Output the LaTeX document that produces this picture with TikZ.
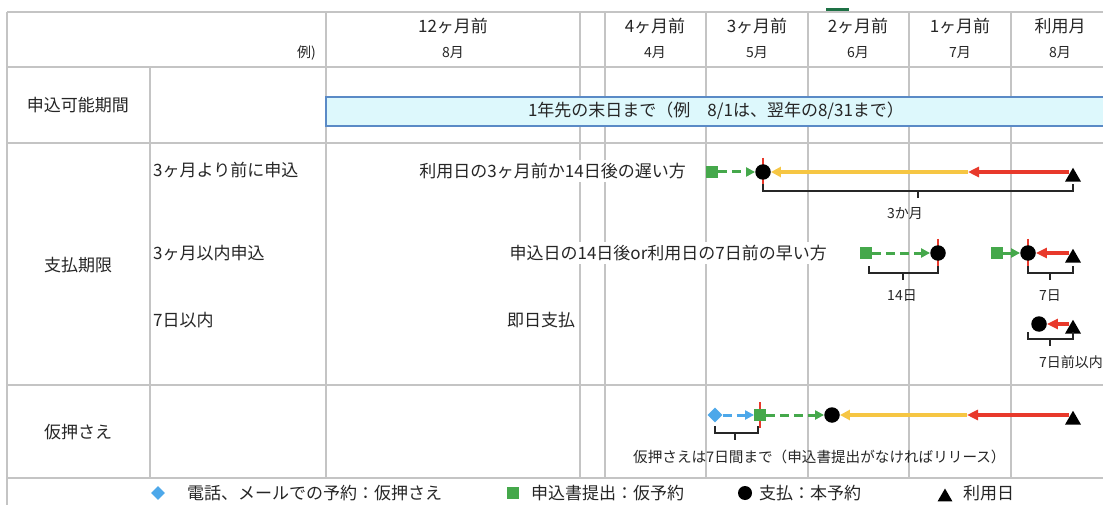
\documentclass[tikz,border=0pt]{standalone}
\usepackage{fontspec}
\setmainfont{Noto Sans CJK JP}
\usetikzlibrary{shapes.geometric,arrows.meta,calc}
\definecolor{gridc}{HTML}{C4C4C4}
\definecolor{barfill}{HTML}{DDF8FC}
\definecolor{barline}{HTML}{5A8AC6}
\definecolor{mgreen}{HTML}{45A84B}
\definecolor{mred}{HTML}{E8392B}
\definecolor{myellow}{HTML}{F6C643}
\definecolor{mblue}{HTML}{4DA8EA}
\definecolor{txt}{HTML}{262626}
\definecolor{xlgreen}{HTML}{1E7145}
\newcommand{\fL}{\fontsize{17}{20}\selectfont}
\newcommand{\fM}{\fontsize{14.6}{17}\selectfont}
\newcommand{\fS}{\fontsize{14}{16}\selectfont}
\pgfdeclarelayer{gridlayer}
\pgfdeclarelayer{arrowlayer}
\pgfsetlayers{gridlayer,arrowlayer,main}
\tikzset{
  gridline/.style={draw=gridc, line width=1.2pt},
  lbl/.style={font=\fL, text=txt, inner sep=1pt},
  lblw/.style={lbl, fill=white, inner sep=3pt},
  hdr/.style={font=\fL, text=txt, inner sep=1pt},
  small/.style={font=\fS, text=txt, inner sep=1pt},
  mid/.style={font=\fM, text=txt, inner sep=1pt},
  dot/.style={circle, fill=black, minimum size=15.5pt, inner sep=0pt},
  sqm/.style={rectangle, fill=mgreen, minimum size=11.5pt, inner sep=0pt},
  tri/.style={regular polygon, regular polygon sides=3, fill=black, minimum size=18.5pt, inner sep=0pt},
  dia/.style={diamond, fill=mblue, minimum size=15pt, inner sep=0pt},
  garrow/.style={draw=mgreen, line width=3pt, dash pattern=on 9pt off 5pt, -{Triangle[length=9pt,width=9pt]}},
  barrow/.style={draw=mblue, line width=3pt, dash pattern=on 9pt off 5pt, -{Triangle[length=9pt,width=9pt]}},
  rarrow/.style={draw=mred, line width=3.3pt, -{Triangle[length=11pt,width=10pt]}},
  yarrow/.style={draw=myellow, line width=3.3pt, -{Triangle[length=10pt,width=10pt]}},
  redtick/.style={draw=mred, line width=2.8pt},
  brace/.style={draw=black!85, line width=1.2pt},
}
\begin{document}
\begin{tikzpicture}[x=1pt,y=-1pt]
\useasboundingbox (0,0) rectangle (1103,505);
% ---------- grid ----------
\begin{pgfonlayer}{gridlayer}
  \fill[white] (0,0) rectangle (1103,505);
  \foreach \yy in {12,67,143,385,478} \draw[gridline] (7,\yy) -- (1103,\yy);
  \draw[gridline] (7,12) -- (7,505);
  \draw[gridline] (150,67) -- (150,478);
  \foreach \xx in {326,580,605,706,808,909,1011} \draw[gridline] (\xx,12) -- (\xx,478);
  \fill[xlgreen] (826,8.5) rectangle (849,11.5);
\end{pgfonlayer}
% ---------- header ----------
\node[small, anchor=east] (ex) at (317,53) {例)};
\node[hdr] (h12) at (453,26) {12ヶ月前};
\node[small] (m12) at (453,53) {8月};
\node[hdr] (h4) at (655,26) {4ヶ月前};
\node[small] (m4) at (655,53) {4月};
\node[hdr] (h3) at (757,26) {3ヶ月前};
\node[small] (m3) at (757,53) {5月};
\node[hdr] (h2) at (858,26) {2ヶ月前};
\node[small] (m2) at (858,53) {6月};
\node[hdr] (h1) at (960,26) {1ヶ月前};
\node[small] (m1m) at (960,53) {7月};
\node[hdr] (h0) at (1060,26) {利用月};
\node[small] (m0) at (1060,53) {8月};
% ---------- row: 申込可能期間 ----------
\node[lbl] (r1) at (78,105) {申込可能期間};
\draw[fill=barfill, draw=barline, line width=1.5pt] (326,97) rectangle (1115,126);
\node[lbl] (bar) at (716,111) {1年先の末日まで（例　8/1は、翌年の8/31まで）};
% ---------- row: 支払期限 ----------
\node[lbl] (r2) at (78,265) {支払期限};
\node[lbl, anchor=west] (a1) at (152,170) {3ヶ月より前に申込};
\node[lbl, anchor=west] (a2) at (152,253) {3ヶ月以内申込};
\node[lbl, anchor=west] (a3) at (152,320) {7日以内};
\node[lblw, anchor=east] (d1) at (689,171) {利用日の3ヶ月前か14日後の遅い方};
\node[lblw, anchor=east] (d2) at (830,253) {申込日の14日後or利用日の7日前の早い方};
\node[lblw, anchor=west] (d3) at (504,320) {即日支払};
% line 1
\node[sqm] (s1) at (712,172) {};
\node[dot] (c1) at (763,172) {};
\node[tri, yshift=-5pt] (t1) at (1073,172) {};
\coordinate (k1) at (968,172);
% line 2
\node[sqm] (s2) at (866,253) {};
\node[dot] (c2) at (938,253) {};
\node[sqm] (s3) at (997,253) {};
\node[dot] (c3) at (1028,253) {};
\node[tri, yshift=-5pt] (t3) at (1073,253) {};
% line 3
\node[dot] (c4) at (1039,324) {};
\node[tri, yshift=-5pt] (t4) at (1073,324) {};
% ---------- row: 仮押さえ ----------
\node[lbl] (r3) at (78,432) {仮押さえ};
\node[dia] (d5) at (715,415) {};
\node[sqm] (s5) at (760,415) {};
\node[dot] (c5) at (832,415) {};
\node[tri, yshift=-5pt] (t5) at (1073,415) {};
\coordinate (k5) at (967,415);
% ---------- connectors ----------
\begin{pgfonlayer}{arrowlayer}
  \draw[redtick] ($(c1.center)+(0,-14)$) -- ($(c1.center)+(0,14)$);
  \draw[redtick] ($(c2.center)+(0,-14)$) -- ($(c2.center)+(0,14)$);
  \draw[redtick] ($(c3.center)+(0,-14)$) -- ($(c3.center)+(0,14)$);
  \draw[redtick] ($(s5.center)+(0,-13)$) -- ($(s5.center)+(0,13)$);
  \draw[garrow] (s1) -- (c1);
  \draw[yarrow] (k1) -- (c1);
  \draw[rarrow] ($(t1.center |- c1.center)+(-4,0)$) -- (k1);
  \draw[garrow] (s2) -- (c2);
  \draw[garrow] (s3) -- (c3);
  \draw[rarrow] ($(t3.center |- c3.center)+(-4,0)$) -- (c3);
  \draw[rarrow] ($(t4.center |- c4.center)+(-4,0)$) -- (c4);
  \draw[barrow] (d5) -- (s5);
  \draw[garrow] (s5) -- (c5);
  \draw[yarrow] (k5) -- (c5);
  \draw[rarrow] ($(t5.center |- c5.center)+(-4,0)$) -- (k5);
\end{pgfonlayer}
% ---------- brackets ----------
\draw[brace] (763,184) -- (763,191) -- (1073,191) -- (1073,184);
\draw[brace] (918,191) -- (918,198);
\node[small] (l1) at (905,214) {3か月};
\draw[brace] (869,266) -- (869,273) -- (938,273) -- (938,266);
\draw[brace] (903,273) -- (903,280);
\node[small] (l2) at (902,296) {14日};
\draw[brace] (1028,266) -- (1028,273) -- (1073,273) -- (1073,266);
\draw[brace] (1050,273) -- (1050,280);
\node[small] (l3) at (1050,296) {7日};
\draw[brace] (1028,332) -- (1028,339) -- (1073,339) -- (1073,332);
\draw[brace] (1050,339) -- (1050,346);
\node[small, anchor=west] (l4) at (1038,362) {7日前以内};
\draw[brace] (715,426) -- (715,433) -- (758,433) -- (758,426);
\draw[brace] (735,433) -- (735,440);
\node[mid, anchor=west] (l5) at (632,457) {仮押さえは7日間まで（申込書提出がなければリリース）};
% ---------- legend ----------
\node[dia, minimum size=14pt] (g1) at (158,493) {};
\node[lbl, anchor=west] (gt1) at (186,493) {電話、メールでの予約：仮押さえ};
\node[sqm] (g2) at (513,493) {};
\node[lbl, anchor=west] (gt2) at (530,493) {申込書提出：仮予約};
\node[dot, minimum size=14pt] (g3) at (745,493) {};
\node[lbl, anchor=west] (gt3) at (758,493) {支払：本予約};
\node[tri, minimum size=17pt, yshift=-4pt] (g4) at (945,493) {};
\node[lbl, anchor=west] (gt4) at (962,493) {利用日};
\end{tikzpicture}
\end{document}
